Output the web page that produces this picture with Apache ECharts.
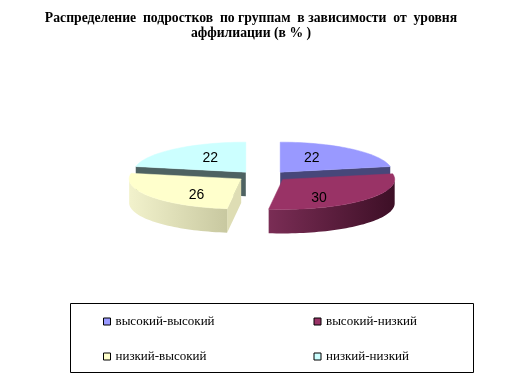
<!DOCTYPE html>
<html>
<head>
<meta charset="utf-8">
<title>Распределение подростков</title>
<script src="https://cdn.jsdelivr.net/npm/echarts@6.0.0/dist/echarts.min.js"></script>
<style>
  html, body { margin: 0; padding: 0; background: #fff; }
  #chart { width: 524px; height: 377px; }
</style>
</head>
<body>
<div id="chart"></div>
<script>
  // данные
  var categories = ['высокий-высокий', 'высокий-низкий', 'низкий-высокий', 'низкий-низкий']
  var values = [22, 30, 26, 22]
  var topColors = ['#9999ff', '#993366', '#ffffcc', '#ccffff']
  var wallColors = [['#5c5c99', '#3d3d66'], ['#7a2d55', '#3d0f26'], ['#f2f2cc', '#c8c8a0'], ['#566b6b', '#3f5050']]
  var faceColors = ['#47477a', '#5e1f40', '#deddb4', '#4e6262']

  // геометрия объёмного круга
  var CX = 263, CY = 176, RX = 112, RY = 30, H = 24, EX = 27, EY = 5
  var total = values.reduce(function (s, v) { return s + v }, 0)

  function rad(d) { return d * Math.PI / 180 }

  function sliceRenderer(i) {
    return function (params, api) {
      var before = 0
      for (var k = 0; k < i; k++) before += values[k]
      var a0 = before / total * 360
      var a1 = a0 + api.value(0) / total * 360
      var mid = (a0 + a1) / 2
      var px = CX + EX * Math.sin(rad(mid))
      var py = CY - EY * Math.cos(rad(mid))
      function pt(a, dz) {
        return [px + RX * Math.sin(rad(a)), py - RY * Math.cos(rad(a)) + dz]
      }
      function arc(from, to, dz) {
        var n = Math.max(2, Math.ceil((to - from) / 2) + 1)
        var pts = []
        for (var j = 0; j < n; j++) pts.push(pt(from + (to - from) * j / (n - 1), dz))
        return pts
      }
      var children = []
      var apex = [px, py], apexLow = [px, py + H]
      // боковые срезы
      if (Math.sin(rad(a0)) < -1e-6) {
        children.push({ type: 'polygon', z2: 1, shape: { points: [apex, pt(a0, 0), pt(a0, H), apexLow] },
          style: { fill: faceColors[i] } })
      }
      if (Math.sin(rad(a1)) > 1e-6) {
        children.push({ type: 'polygon', z2: 1, shape: { points: [apex, pt(a1, 0), pt(a1, H), apexLow] },
          style: { fill: faceColors[i] } })
      }
      // передняя стенка
      var lo = Math.max(a0, 90), hi = Math.min(a1, 270)
      if (hi > lo) {
        children.push({ type: 'polygon', z2: 2,
          shape: { points: arc(lo, hi, 0).concat(arc(lo, hi, H).reverse()) },
          style: { fill: { type: 'linear', x: 0, y: 0, x2: 1, y2: 0,
            colorStops: [{ offset: 0, color: wallColors[i][0] }, { offset: 1, color: wallColors[i][1] }] } } })
      }
      // верх
      children.push({ type: 'polygon', z2: 3, shape: { points: [apex].concat(arc(a0, a1, 0)) },
        style: { fill: topColors[i], stroke: topColors[i], lineWidth: 0.5 } })
      // подпись
      children.push({ type: 'text', z2: 4,
        x: px + 0.47 * RX * Math.sin(rad(mid)) - 2,
        y: py - 0.75 * RY * Math.cos(rad(mid)) + 3,
        style: { text: String(api.value(0)), fill: '#000', font: '14px "Liberation Sans", Arial',
          align: 'center', verticalAlign: 'middle' } })
      return { type: 'group', children: children }
    }
  }

  var series = categories.map(function (name, i) {
    var before = 0
    for (var k = 0; k < i; k++) before += values[k]
    var mid = (before + values[i] / 2) / total * 360
    return {
      type: 'custom',
      name: name,
      coordinateSystem: 'none',
      z: Math.cos(rad(mid)) < 0 ? 3 : 2,
      itemStyle: { color: topColors[i] },
      renderItem: sliceRenderer(i),
      data: [values[i]]
    }
  })

  var myChart = echarts.init(document.getElementById('chart'))
  myChart.setOption({
    animation: false,
    title: {
      text: 'Распределение  подростков  по группам  в зависимости  от  уровня\nаффилиации (в % )',
      left: 246,
      top: 6,
      textAlign: 'center',
      textStyle: {
        fontFamily: '"Liberation Serif", "Times New Roman", serif',
        fontWeight: 'bold',
        fontSize: 13.7,
        lineHeight: 15,
        color: '#000'
      }
    },
    legend: {
      data: categories,
      left: 103,
      top: 304,
      width: 430,
      padding: 0,
      itemGap: 0,
      itemWidth: 7,
      itemHeight: 7,
      icon: 'rect',
      itemStyle: { borderColor: '#000', borderWidth: 1 },
      selectedMode: false,
      textStyle: {
        fontFamily: '"Liberation Serif", "Times New Roman", serif',
        fontSize: 13,
        color: '#000',
        width: 198,
        lineHeight: 35
      }
    },
    graphic: [{
      type: 'rect',
      shape: { x: 70.5, y: 303.5, width: 403, height: 69 },
      style: { fill: 'none', stroke: '#000', lineWidth: 1 }
    }],
    series: series
  })
</script>
</body>
</html>
